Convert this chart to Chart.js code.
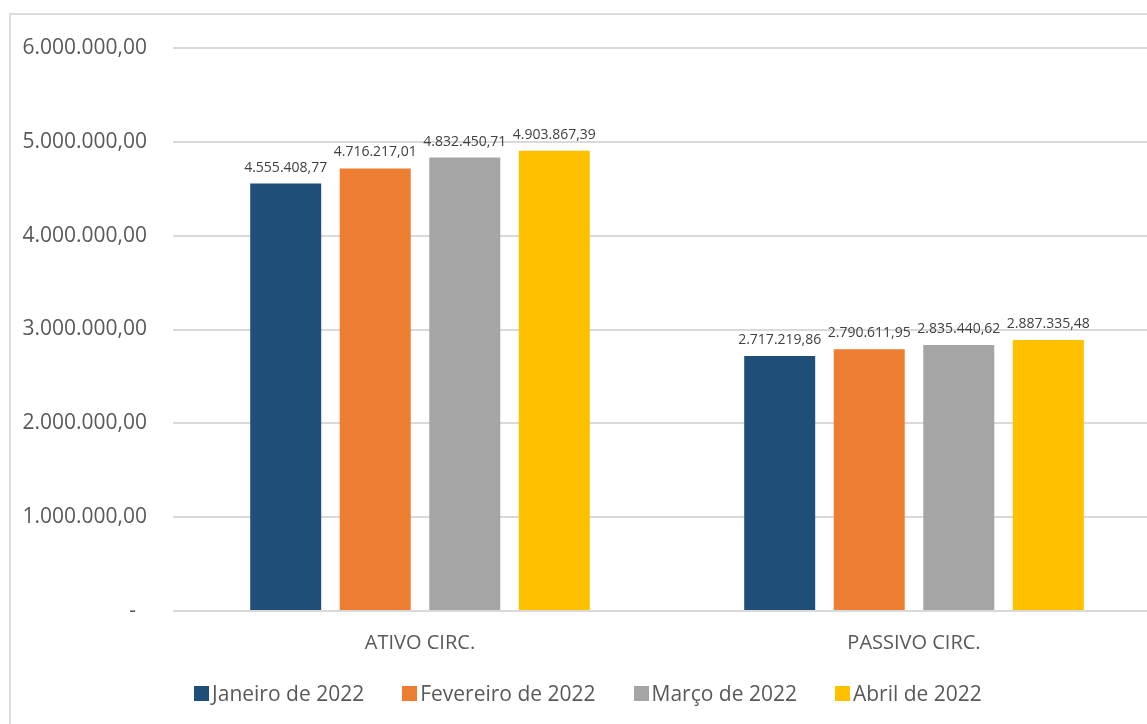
<!DOCTYPE html>
<html>
<head>
<meta charset="utf-8">
<script src="https://cdn.jsdelivr.net/npm/chart.js@4.4.0/dist/chart.umd.min.js"></script>
<style>
    html, body { margin: 0; padding: 0; background: #ffffff; overflow: hidden; }
    #moldura {
        position: absolute; left: 9px; top: 13px; width: 1200px; height: 760px;
        border: 2px solid #dcdcdc; box-sizing: border-box;
    }
    #wrap { position: absolute; left: 0; top: 0; width: 1165px; height: 724px; }
    #legenda {
        position: absolute; left: 0; top: 679px; width: 1176px;
        display: flex; justify-content: center;
        font-family: "Open Sans", sans-serif; font-size: 21px; color: #595959;
    }
    .item { display: flex; align-items: center; margin: 0 19px; white-space: nowrap; }
    .caixa { width: 15px; height: 15px; margin-right: 3px; }
</style>
</head>
<body>
<div id="moldura"></div>
<div id="wrap"><canvas id="grafico"></canvas></div>
<div id="legenda"></div>
<script>
// Dados do gráfico
const categorias = ['ATIVO CIRC.', 'PASSIVO CIRC.'];
const meses = ['Janeiro de 2022', 'Fevereiro de 2022', 'Março de 2022', 'Abril de 2022'];
const janeiro = [4555408.77, 2717219.86];
const fevereiro = [4716217.01, 2790611.95];
const marco = [4832450.71, 2835440.62];
const abril = [4903867.39, 2887335.48];
const ticksY = [0, 1000000, 2000000, 3000000, 4000000, 5000000, 6000000];
const cores = ['#1F4E79', '#ED7D31', '#A5A5A5', '#FFC000'];

// Formato brasileiro 1.234.567,89
function formatar(v) {
    const partes = v.toFixed(2).split('.');
    const inteiro = partes[0].replace(/\B(?=(\d{3})+(?!\d))/g, '.');
    return inteiro + ',' + partes[1];
}

// Rótulos de dados acima das barras
const rotulos = {
    id: 'rotulos',
    afterDatasetsDraw(chart) {
        const ctx = chart.ctx;
        ctx.save();
        ctx.font = '14px "Open Sans"';
        ctx.fillStyle = '#404040';
        ctx.textAlign = 'center';
        ctx.textBaseline = 'alphabetic';
        chart.data.datasets.forEach((ds, i) => {
            chart.getDatasetMeta(i).data.forEach((bar, j) => {
                ctx.fillText(formatar(ds.data[j]), bar.x, bar.y - 12);
            });
        });
        ctx.restore();
    }
};

const series = [janeiro, fevereiro, marco, abril];

new Chart(document.getElementById('grafico'), {
    type: 'bar',
    data: {
        labels: categorias,
        datasets: series.map((dados, i) => ({
            label: meses[i],
            data: dados,
            backgroundColor: cores[i],
            borderWidth: 0,
            categoryPercentage: 0.725,
            barPercentage: 0.793
        }))
    },
    options: {
        responsive: true,
        maintainAspectRatio: false,
        animation: false,
        layout: { padding: { top: 48, right: 4, bottom: 53, left: 0 } },
        plugins: {
            legend: { display: false },
            tooltip: { enabled: false }
        },
        scales: {
            x: {
                grid: { display: false, drawTicks: false },
                border: { display: false },
                ticks: {
                    padding: 20,
                    color: '#595959',
                    font: { family: 'Open Sans', size: 20 }
                },
                afterFit(s) { s.height = 60; }
            },
            y: {
                min: 0,
                max: 6000000,
                afterBuildTicks(s) { s.ticks = ticksY.map(v => ({ value: v })); },
                grid: { color: '#d9d9d9', lineWidth: 2, drawTicks: false },
                border: { display: false },
                ticks: {
                    padding: 26,
                    color: '#595959',
                    font: { family: 'Open Sans', size: 21 },
                    callback: v => v === 0 ? '-  ' : formatar(v)
                },
                afterFit(s) { s.width = 173; }
            }
        }
    },
    plugins: [rotulos]
});

// Legenda em HTML
const legenda = document.getElementById('legenda');
meses.forEach((m, i) => {
    const item = document.createElement('div');
    item.className = 'item';
    const caixa = document.createElement('span');
    caixa.className = 'caixa';
    caixa.style.background = cores[i];
    const texto = document.createElement('span');
    texto.textContent = m;
    item.appendChild(caixa);
    item.appendChild(texto);
    legenda.appendChild(item);
});
</script>
</body>
</html>
